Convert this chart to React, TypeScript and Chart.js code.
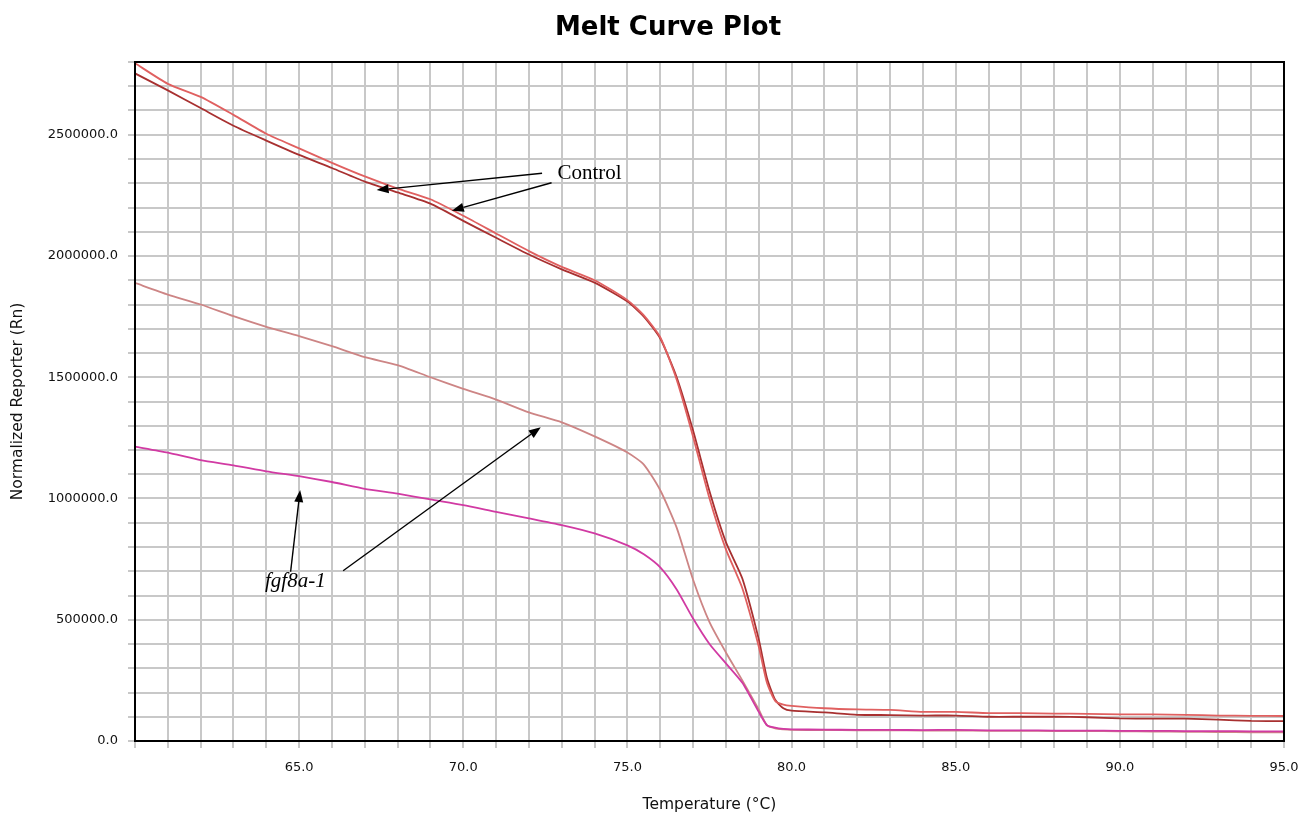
import React, { useEffect, useRef } from 'react';
import { Chart, registerables } from 'chart.js';

Chart.register(...registerables);

// ---- data ----
const temperatures = [
  60, 61, 62, 63, 64, 65, 66, 67, 68, 69, 70, 71, 72, 73, 74,
  75, 75.5, 76, 76.5, 77, 77.5, 78, 78.5, 79, 79.25, 79.5, 79.75, 80,
  81, 82, 83, 84, 85, 86, 87, 88, 89, 90, 91, 92, 93, 94, 95,
];

const controlUpper = [
  2795000, 2710000, 2656000, 2582000, 2504000, 2444000, 2384000, 2328000, 2278000, 2234000, 2166000, 2093000, 2020000, 1955000, 1900000,
  1818000, 1755000, 1665000, 1490000, 1255000, 1000000, 790000, 630000, 390000, 240000, 165000, 150000, 145000,
  135000, 130000, 128000, 120000, 120000, 115000, 115000, 113000, 112000, 110000, 110000, 108000, 105000, 104000, 103000,
];

const controlLower = [
  2753000, 2683000, 2610000, 2537000, 2476000, 2417000, 2363000, 2307000, 2262000, 2216000, 2145000, 2075000, 2006000, 1945000, 1890000,
  1812000, 1750000, 1660000, 1500000, 1280000, 1030000, 820000, 670000, 420000, 260000, 170000, 135000, 125000,
  118000, 108000, 107000, 105000, 105000, 100000, 100000, 100000, 98000, 93000, 92000, 92000, 88000, 83000, 82000,
];

const fgf8aLight = [
  1889000, 1841000, 1800000, 1752000, 1708000, 1670000, 1628000, 1583000, 1550000, 1500000, 1452000, 1408000, 1355000, 1314000, 1256000,
  1190000, 1140000, 1034000, 880000, 665000, 490000, 365000, 250000, 130000, 65000, 52000, 48000, 46000,
  45000, 44000, 44000, 43000, 43000, 42000, 42000, 41000, 41000, 40000, 39000, 38000, 37000, 36000, 36000,
];

const fgf8aMagenta = [
  1214000, 1189000, 1158000, 1137000, 1112000, 1092000, 1068000, 1040000, 1020000, 996000, 973000, 945000, 918000, 890000, 856000,
  807000, 770000, 716000, 625000, 505000, 400000, 320000, 240000, 120000, 65000, 55000, 50000, 48000,
  47000, 46000, 46000, 45000, 46000, 44000, 44000, 43000, 43000, 42000, 42000, 41000, 41000, 40000, 40000,
];

const xLabelTemps = [65, 70, 75, 80, 85, 90, 95];
const yLabelValues = [0, 500000, 1000000, 1500000, 2000000, 2500000];

// annotation anchors in data units (temperature, Rn)
const controlText = { x: 72.87, y: 2342000, label: 'Control' };
const controlArrows = [
  [72.4, 2341000, 67.36, 2272000],
  [72.69, 2302000, 69.65, 2187000],
];
const fgfText = { x: 63.96, y: 657000, label: 'fgf8a-1' };
const fgfArrows = [
  [64.74, 698000, 65.03, 1035000],
  [66.34, 702000, 72.36, 1294000],
];

function drawArrow(ctx: CanvasRenderingContext2D, x1: number, y1: number, x2: number, y2: number) {
  const ang = Math.atan2(y2 - y1, x2 - x1);
  const headLen = 12;
  const headW = 4.5;
  const bx = x2 - headLen * Math.cos(ang);
  const by = y2 - headLen * Math.sin(ang);
  ctx.beginPath();
  ctx.moveTo(x1, y1);
  ctx.lineTo(bx, by);
  ctx.stroke();
  ctx.beginPath();
  ctx.moveTo(x2, y2);
  ctx.lineTo(bx + headW * Math.sin(ang), by - headW * Math.cos(ang));
  ctx.lineTo(bx - headW * Math.sin(ang), by + headW * Math.cos(ang));
  ctx.closePath();
  ctx.fill();
}

const decorPlugin = {
  id: 'decor',
  afterDraw(chart: any) {
    const { ctx, chartArea: a, scales } = chart;
    const xs = scales.x;
    const ys = scales.y;
    ctx.save();
    // plot frame
    ctx.strokeStyle = '#000';
    ctx.lineWidth = 2;
    ctx.strokeRect(a.left, a.top, a.right - a.left, a.bottom - a.top);

    // title
    ctx.fillStyle = '#000';
    ctx.font = 'bold 26px "DejaVu Sans"';
    ctx.textAlign = 'center';
    ctx.textBaseline = 'alphabetic';
    ctx.fillText('Melt Curve Plot', 668, 35);

    // annotations
    ctx.strokeStyle = '#000';
    ctx.fillStyle = '#000';
    ctx.lineWidth = 1.4;
    [...controlArrows, ...fgfArrows].forEach(([x1, y1, x2, y2]) => {
      drawArrow(
        ctx,
        xs.getPixelForValue(x1), ys.getPixelForValue(y1),
        xs.getPixelForValue(x2), ys.getPixelForValue(y2)
      );
    });
    ctx.textAlign = 'left';
    ctx.textBaseline = 'middle';
    ctx.font = '21px "Liberation Serif"';
    ctx.fillText(controlText.label, xs.getPixelForValue(controlText.x), ys.getPixelForValue(controlText.y));
    ctx.font = 'italic 21px "Liberation Serif"';
    ctx.fillText(fgfText.label, xs.getPixelForValue(fgfText.x), ys.getPixelForValue(fgfText.y));
    ctx.restore();
  },
};

function toPoints(values: number[]) {
  return temperatures.map((t, i) => ({ x: t, y: values[i] }));
}

export default function App() {
  const canvasRef = useRef<HTMLCanvasElement>(null);

  useEffect(() => {
    const canvas = canvasRef.current;
    if (!canvas) return;
    const gridColor = '#c8c8c8';
    const tickFont = { family: '"DejaVu Sans"', size: 13 };
    const titleFont = { family: '"DejaVu Sans"', size: 15.5 };
    const chart = new Chart(canvas, {
      type: 'line',
      data: {
        datasets: [
          { label: 'Control 1', data: toPoints(controlUpper), borderColor: '#e06060', borderWidth: 1.8 },
          { label: 'Control 2', data: toPoints(controlLower), borderColor: '#a83030', borderWidth: 1.8 },
          { label: 'fgf8a-1 a', data: toPoints(fgf8aMagenta), borderColor: '#d13aa3', borderWidth: 1.8 },
          { label: 'fgf8a-1 b', data: toPoints(fgf8aLight), borderColor: '#cd8585', borderWidth: 1.8 },
        ].map((d) => ({ ...d, pointRadius: 0, fill: false, tension: 0.2 })),
      },
      options: {
        animation: false,
        responsive: false,
        events: [],
        layout: { padding: { top: 62, right: 23, left: 0, bottom: 0 } },
        plugins: {
          legend: { display: false },
          title: { display: false },
          tooltip: { enabled: false },
        },
        scales: {
          x: {
            type: 'linear',
            min: 60,
            max: 95,
            afterFit: (s: any) => {
              s.height = 78;
              s.paddingLeft = 0;
              s.paddingRight = 0;
            },
            border: { display: false },
            grid: { color: gridColor, lineWidth: 2, tickLength: 7, drawTicks: true },
            ticks: {
              stepSize: 1,
              autoSkip: false,
              maxTicksLimit: 100,
              maxRotation: 0,
              minRotation: 0,
              padding: 12,
              color: '#111',
              font: tickFont,
              callback: (v: any) => (xLabelTemps.includes(Number(v)) ? Number(v).toFixed(1) : ''),
            },
            title: {
              display: true,
              text: 'Temperature (°C)',
              color: '#111',
              font: titleFont,
              padding: { top: 0, bottom: 5 },
            },
          },
          y: {
            type: 'linear',
            min: 0,
            max: 2800000,
            afterFit: (s: any) => {
              s.width = 135;
              s.paddingTop = 0;
              s.paddingBottom = 0;
            },
            border: { display: false },
            grid: { color: gridColor, lineWidth: 2, tickLength: 7, drawTicks: true },
            ticks: {
              stepSize: 100000,
              autoSkip: false,
              maxTicksLimit: 100,
              padding: 10,
              color: '#111',
              font: tickFont,
              callback: (v: any) => (yLabelValues.includes(Number(v)) ? Number(v).toFixed(1) : ''),
            },
            title: {
              display: true,
              text: 'Normalized Reporter (Rn)',
              color: '#111',
              font: titleFont,
              padding: { top: 9, bottom: 0 },
            },
          },
        },
      },
      plugins: [decorPlugin],
    } as any);
    return () => chart.destroy();
  }, []);

  return (
    <div style={{ position: 'absolute', left: 0, top: 0, width: 1307, height: 819, background: '#fff' }}>
      <canvas ref={canvasRef} width={1307} height={819} style={{ display: 'block' }} />
    </div>
  );
}
